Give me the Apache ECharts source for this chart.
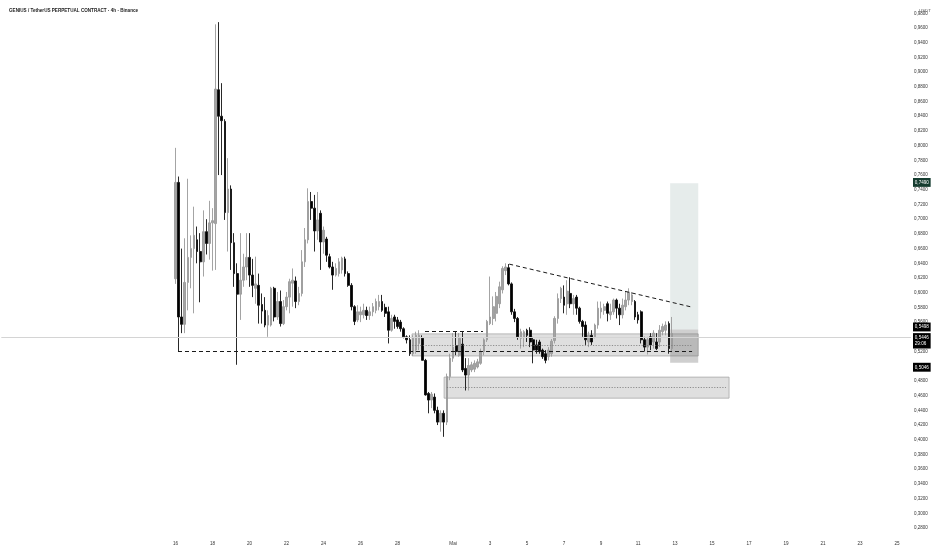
<!DOCTYPE html>
<html><head><meta charset="utf-8">
<script src="https://cdn.jsdelivr.net/npm/echarts@6/dist/echarts.min.js"></script>
<style>html,body{margin:0;padding:0;background:#fff}#c{width:932px;height:550px}</style>
</head><body><div id="c"></div>
<script>
const titleText = 'GENIUS / TetherUS PERPETUAL CONTRACT · 4h · Binance';
const unitText = 'USDT';
const tickLabels = ['16','18','20','22','24','26','28','Mai','3','5','7','9','11','13','15','17','19','21','23','25'];
const tickDayOffsets = [0,2,4,6,8,10,12,15,17,19,21,23,25,27,29,31,33,35,37,39];
const slotsPerDay = 6;
const firstSlot = 56;
const totalSlots = 295;

const candleOpen = [
0.619,0.750,0.567,0.557,0.614,0.648,0.660,0.672,0.656,0.642,
0.683,0.667,0.695,0.694,0.876,0.840,0.833,0.709,0.741,0.668,
0.626,0.598,0.617,0.635,0.648,0.624,0.606,0.610,0.584,0.576,
0.556,0.556,0.606,0.567,0.588,0.558,0.581,0.594,0.613,0.616,
0.588,0.599,0.642,0.672,0.724,0.715,0.684,0.708,0.669,0.673,
0.649,0.635,0.624,0.626,0.631,0.646,0.626,0.610,0.581,0.563,
0.570,0.570,0.576,0.569,0.574,0.576,0.581,0.588,0.580,0.574,
0.549,0.567,0.563,0.560,0.551,0.540,0.536,0.517,0.522,0.531,
0.538,0.508,0.463,0.454,0.458,0.440,0.424,0.436,0.424,0.486,
0.511,0.528,0.515,0.530,0.497,0.488,0.495,0.496,0.499,0.504,
0.520,0.536,0.558,0.565,0.572,0.585,0.604,0.630,0.634,0.612,
0.574,0.565,0.538,0.540,0.549,0.549,0.536,0.529,0.533,0.522,
0.517,0.513,0.517,0.535,0.565,0.592,0.594,0.585,0.599,0.585,
0.594,0.579,0.561,0.556,0.533,0.542,0.540,0.556,0.574,0.576,
0.585,0.570,0.574,0.590,0.579,0.570,0.581,0.590,0.588,0.588,
0.570,0.574,0.536,0.526,0.540,0.533,0.533,0.533,0.547,0.549,
0.558,0.524];
const candleClose = [
0.750,0.567,0.557,0.614,0.648,0.660,0.678,0.656,0.642,0.683,
0.667,0.695,0.698,0.877,0.840,0.834,0.709,0.741,0.668,0.626,
0.598,0.617,0.635,0.648,0.624,0.610,0.612,0.583,0.575,0.556,
0.569,0.606,0.567,0.588,0.558,0.581,0.594,0.615,0.617,0.588,
0.599,0.642,0.672,0.724,0.715,0.684,0.699,0.669,0.685,0.651,
0.635,0.624,0.633,0.642,0.647,0.626,0.610,0.581,0.561,0.574,
0.574,0.576,0.569,0.574,0.581,0.588,0.588,0.576,0.572,0.549,
0.565,0.561,0.554,0.551,0.540,0.536,0.517,0.538,0.542,0.542,
0.508,0.461,0.454,0.462,0.440,0.424,0.436,0.424,0.486,0.511,
0.526,0.520,0.538,0.495,0.488,0.501,0.502,0.504,0.506,0.520,
0.536,0.561,0.567,0.581,0.595,0.608,0.633,0.635,0.612,0.574,
0.565,0.540,0.547,0.547,0.542,0.533,0.522,0.522,0.520,0.513,
0.508,0.522,0.534,0.565,0.592,0.606,0.583,0.602,0.585,0.592,
0.579,0.561,0.554,0.536,0.542,0.533,0.556,0.579,0.579,0.581,
0.572,0.574,0.590,0.579,0.570,0.583,0.590,0.601,0.597,0.567,
0.563,0.536,0.526,0.536,0.529,0.545,0.524,0.549,0.554,0.556,
0.524,0.5446];
const candleLow = [
0.612,0.5205,0.545,0.545,0.576,0.606,0.572,0.640,0.587,0.622,
0.652,0.645,0.630,0.631,0.760,0.760,0.699,0.656,0.631,0.608,
0.502,0.563,0.608,0.617,0.608,0.594,0.585,0.558,0.558,0.553,
0.540,0.554,0.561,0.563,0.554,0.556,0.576,0.572,0.581,0.579,
0.583,0.595,0.635,0.667,0.699,0.656,0.672,0.631,0.653,0.642,
0.633,0.604,0.622,0.622,0.626,0.622,0.608,0.576,0.556,0.560,
0.560,0.565,0.563,0.563,0.568,0.572,0.576,0.574,0.567,0.531,
0.547,0.551,0.551,0.547,0.538,0.531,0.514,0.514,0.517,0.522,
0.508,0.460,0.436,0.443,0.436,0.420,0.411,0.404,0.420,0.481,
0.506,0.515,0.513,0.492,0.467,0.467,0.492,0.492,0.497,0.502,
0.515,0.533,0.556,0.556,0.561,0.579,0.599,0.624,0.610,0.570,
0.560,0.536,0.524,0.526,0.533,0.526,0.504,0.517,0.517,0.510,
0.504,0.508,0.513,0.531,0.558,0.586,0.572,0.570,0.579,0.570,
0.570,0.558,0.540,0.529,0.526,0.529,0.538,0.551,0.565,0.570,
0.561,0.563,0.570,0.565,0.556,0.565,0.576,0.583,0.583,0.563,
0.558,0.531,0.520,0.516,0.522,0.524,0.522,0.526,0.542,0.542,
0.517,0.519];
const candleHigh = [
0.797,0.758,0.660,0.674,0.755,0.678,0.717,0.690,0.681,0.712,
0.700,0.725,0.715,0.965,0.968,0.885,0.836,0.783,0.746,0.681,
0.640,0.681,0.653,0.681,0.681,0.646,0.649,0.626,0.599,0.594,
0.576,0.608,0.608,0.601,0.603,0.590,0.601,0.619,0.633,0.622,
0.608,0.658,0.688,0.742,0.737,0.733,0.737,0.712,0.690,0.676,
0.653,0.642,0.640,0.647,0.649,0.649,0.629,0.613,0.583,0.583,
0.581,0.585,0.581,0.581,0.586,0.592,0.597,0.597,0.585,0.581,
0.570,0.570,0.567,0.563,0.553,0.542,0.542,0.542,0.547,0.549,
0.542,0.510,0.465,0.465,0.463,0.445,0.440,0.440,0.490,0.517,
0.545,0.547,0.545,0.547,0.511,0.511,0.506,0.508,0.510,0.524,
0.538,0.563,0.622,0.595,0.601,0.615,0.636,0.640,0.639,0.614,
0.578,0.567,0.551,0.549,0.551,0.553,0.540,0.536,0.536,0.524,
0.522,0.526,0.537,0.568,0.599,0.608,0.610,0.617,0.621,0.597,
0.597,0.581,0.563,0.561,0.547,0.549,0.558,0.588,0.588,0.585,
0.588,0.585,0.592,0.592,0.585,0.592,0.601,0.606,0.601,0.590,
0.574,0.576,0.540,0.540,0.545,0.549,0.545,0.556,0.558,0.561,
0.561,0.567];

// drawings, in slot units (x) and price (y)
const lastPrice = 0.5446;
const countdown = '29:06';
const entryPrice = 0.5498, targetPrice = 0.7490, stopPrice = 0.5046;
const positionSpan = [216.9, 226.0];
const zoneUpper = [133.2, 226.0, 0.5440, 0.5140];
const zoneUpperMid = [133.2, 224.0, 0.5280];
const zoneLower = [143.6, 236.0, 0.4852, 0.4566];
const zoneLowerMid = [144.5, 235.0, 0.4709];
const supportLine = [57.3, 224.0, 0.5205];
const entryLine = [137.4, 156.2, 0.5475];
const trendLine = [164.7, 0.6389, 224.0, 0.5804];

const FONT = 'Liberation Sans';
const fmt = v => v.toFixed(4).replace('.', ',');

const slotLabel = [];
const categories = [];
for (let i = 0; i < totalSlots; i++) {
  categories.push('s' + i);
  const k = i - firstSlot;
  let lab = '';
  if (k >= 0 && k % slotsPerDay === 0) {
    const idx = tickDayOffsets.indexOf(k / slotsPerDay);
    if (idx >= 0) lab = tickLabels[idx];
  }
  slotLabel.push(lab);
}
const candles = candleOpen.map((o, j) => [firstSlot + j, o, candleClose[j], candleLow[j], candleHigh[j]]);

const dashed = {color: '#1a1a1a', width: 1, type: [4, 3]};
const dotted = {color: '#777', width: 0.8, type: [1.2, 1.5]};
const seg = (x1, y1, x2, y2, style) => [{coord: [x1, y1], lineStyle: style}, {coord: [x2, y2]}];
const tagLabel = (text, bg, offY) => ({show: true, position: 'end', formatter: text, color: '#fff', backgroundColor: bg,
  fontSize: 4.6, fontFamily: FONT, padding: [1.2, 1.8], distance: 2, offset: [0, offY || 0], lineHeight: 6.5});

const chart = echarts.init(document.getElementById('c'), null, {renderer: 'canvas'});
chart.setOption({
  animation: false,
  backgroundColor: '#ffffff',
  title: [
    {text: titleText, left: 4, top: 3, textStyle: {fontSize: 4.6, fontWeight: 'bold', color: '#222', fontFamily: FONT}},
    {text: unitText, left: 914, top: 4, textStyle: {fontSize: 4.4, fontWeight: 'normal', color: '#555', fontFamily: FONT}}
  ],
  grid: {left: 1.3, right: 21, top: 0, bottom: 22, containLabel: false},
  xAxis: [
    {type: 'category', data: categories, boundaryGap: true,
      axisLine: {show: false}, axisTick: {show: false}, splitLine: {show: false},
      axisLabel: {interval: (i) => slotLabel[i] !== '', formatter: (v, i) => slotLabel[i],
        fontSize: 4.6, color: '#333', fontFamily: FONT, margin: 13}},
    {type: 'value', min: 0, max: totalSlots, show: false}
  ],
  yAxis: {type: 'value', position: 'right', min: 0.28, max: 0.9981, interval: 0.02, scale: true,
    axisLine: {show: false}, axisTick: {show: false}, splitLine: {show: false},
    axisLabel: {fontSize: 4.5, color: '#333', fontFamily: FONT, margin: 3,
      formatter: v => (Math.abs(v * 50 - Math.round(v * 50)) > 1e-6 ? '' : fmt(v))}},
  series: [
    {
      type: 'line', xAxisIndex: 1, yAxisIndex: 0, data: [[0, 0.28]], symbol: 'none',
      lineStyle: {width: 0, opacity: 0}, silent: true, z: 1,
      markArea: {silent: true, data: [
        [{coord: [positionSpan[0], entryPrice], itemStyle: {color: 'rgba(205,218,215,0.5)'}}, {coord: [positionSpan[1], targetPrice]}],
        [{coord: [zoneUpper[0], zoneUpper[2]], itemStyle: {color: 'rgba(150,150,150,0.3)', borderColor: '#a8a8a8', borderWidth: 0.8}}, {coord: [zoneUpper[1], zoneUpper[3]]}],
        [{coord: [zoneLower[0], zoneLower[2]], itemStyle: {color: 'rgba(150,150,150,0.3)', borderColor: '#a8a8a8', borderWidth: 0.8}}, {coord: [zoneLower[1], zoneLower[3]]}],
        [{coord: [positionSpan[0], stopPrice], itemStyle: {color: 'rgba(110,110,110,0.33)'}}, {coord: [positionSpan[1], entryPrice]}]
      ]},
      markLine: {silent: true, symbol: ['none', 'none'], label: {show: false}, data: [
        seg(supportLine[0], supportLine[2], supportLine[1], supportLine[2], dashed),
        seg(entryLine[0], entryLine[2], entryLine[1], entryLine[2], dashed),
        seg(trendLine[0], trendLine[1], trendLine[2], trendLine[3], dashed),
        seg(zoneUpperMid[0], zoneUpperMid[2], zoneUpperMid[1], zoneUpperMid[2], dotted),
        seg(zoneLowerMid[0], zoneLowerMid[2], zoneLowerMid[1], zoneLowerMid[2], dotted)
      ]}
    },
    {
      type: 'candlestick', xAxisIndex: 0, yAxisIndex: 0, data: candles,
      encode: {x: 0, y: [1, 2, 3, 4]}, barWidth: 2.2, z: 3,
      itemStyle: {color: '#a4a4a4', color0: '#000000', borderColor: '#9a9a9a', borderColor0: '#111111', borderWidth: 0.9},
      markLine: {silent: true, symbol: ['none', 'none'], data: [
        {yAxis: targetPrice, lineStyle: {color: 'rgba(255,255,255,0)', width: 1, type: 'solid'}, label: tagLabel(fmt(targetPrice), '#153c2f', 0)},
        {yAxis: stopPrice, lineStyle: {color: 'rgba(255,255,255,0)', width: 1, type: 'solid'}, label: tagLabel(fmt(stopPrice), '#000', 1)},
        {yAxis: lastPrice, lineStyle: {color: '#d4d4d4', width: 1, type: 'solid'}, label: tagLabel(fmt(lastPrice) + '\n' + countdown, '#000', 4)},
        {yAxis: entryPrice, lineStyle: {color: 'rgba(255,255,255,0)', width: 1, type: 'solid'}, label: tagLabel(fmt(entryPrice), '#000', -2.5)}
      ]}
    }
  ]
});
</script></body></html>
